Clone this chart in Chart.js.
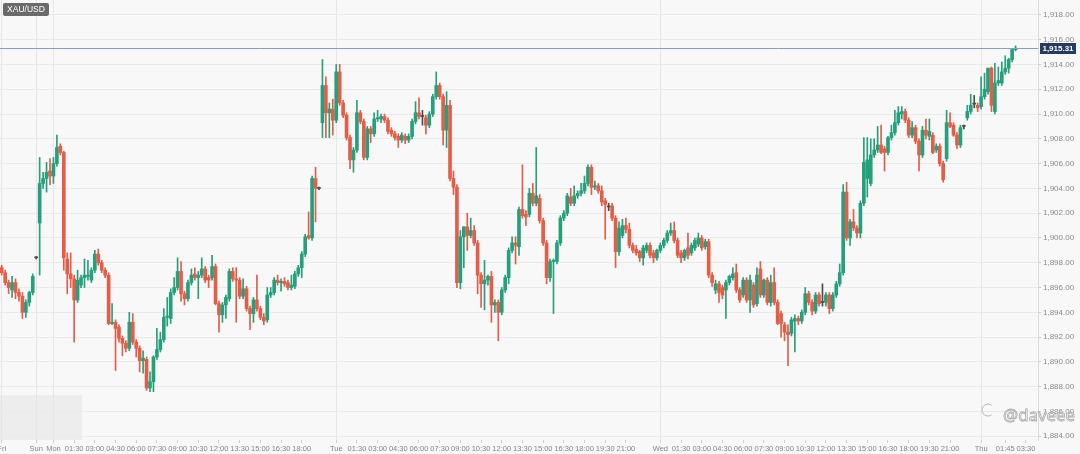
<!DOCTYPE html>
<html>
<head>
<meta charset="utf-8">
<script src="https://cdn.jsdelivr.net/npm/chart.js@4.4.0/dist/chart.umd.min.js"></script>
<style>
  html, body { margin: 0; padding: 0; background: #f8f8f8; }
  #wrap { width: 1080px; height: 454px; position: relative; }
</style>
</head>
<body>
<div id="wrap"><canvas id="myChart"></canvas></div>
<script>
// 15 min candles, [open, high, low, close]
const friday = [
  [1897.6,1897.8,1897.0,1897.2],[1897.2,1897.4,1896.2,1896.4],[1896.4,1896.6,1895.5,1896.0],
  [1895.8,1896.9,1895.2,1896.4],[1896.4,1896.7,1895.1,1895.6],[1895.6,1895.9,1894.9,1895.3],
  [1895.3,1895.6,1893.5,1894.0],[1894.0,1895.0,1893.6,1894.8],[1894.8,1895.7,1894.5,1895.6],
  [1895.6,1897.1,1895.4,1896.9]
];
const sunday = [
  [1898.4,1898.5,1898.3,1898.4],[1901.2,1906.5,1897.0,1904.4],[1904.4,1905.3,1904.0,1904.8],
  [1904.8,1906.1,1903.7,1905.3],[1905.4,1906.4,1904.3,1905.0]
];
const monday = [
  [1905.0,1906.5,1904.4,1906.0],[1906.0,1908.3,1905.8,1907.3],[1907.4,1907.6,1906.7,1906.9],
  [1906.9,1907.0,1897.4,1898.4],[1898.3,1898.8,1895.5,1897.1],[1897.1,1898.8,1896.0,1896.7],
  [1896.7,1897.0,1891.6,1895.0],[1895.0,1897.4,1894.8,1896.6],[1896.2,1897.0,1896.0,1896.8],
  [1896.8,1898.3,1896.0,1897.0],[1896.9,1898.2,1896.6,1897.0],[1896.6,1897.6,1896.4,1897.4],
  [1897.4,1899.0,1897.2,1898.7],[1898.7,1899.1,1897.8,1898.0],[1898.0,1898.2,1897.2,1897.4],
  [1897.4,1897.6,1896.8,1897.0],[1897.0,1897.2,1893.0,1893.1],[1893.1,1894.7,1893.0,1893.2],
  [1893.2,1893.4,1889.3,1892.7],[1892.8,1893.0,1891.6,1891.9],[1891.9,1892.1,1890.5,1891.5],
  [1891.5,1891.7,1890.8,1891.1],[1891.1,1894.0,1890.9,1893.2],[1893.2,1893.9,1891.4,1891.6],
  [1891.6,1891.8,1890.4,1891.1],[1891.1,1891.3,1889.2,1890.1],[1890.1,1890.9,1889.1,1890.3],
  [1890.2,1890.4,1887.7,1887.9],[1887.9,1889.2,1887.6,1888.4],[1888.4,1890.5,1887.6,1890.4],
  [1890.4,1892.7,1890.2,1891.0],[1891.0,1892.4,1890.8,1891.8],[1891.8,1894.3,1891.6,1893.6],
  [1893.6,1895.2,1892.9,1893.7],[1893.5,1895.9,1893.1,1895.6],[1895.6,1896.8,1895.4,1896.0],
  [1896.0,1898.4,1895.8,1897.3],[1897.3,1898.1,1894.9,1895.5],[1895.5,1895.7,1894.6,1895.1],
  [1895.1,1896.6,1894.9,1896.4],[1896.4,1897.5,1896.2,1897.0],[1897.1,1897.6,1896.6,1896.8],
  [1896.8,1897.3,1895.1,1897.0],[1897.0,1898.4,1896.8,1897.5],[1897.5,1897.7,1896.4,1896.6],
  [1896.8,1897.0,1896.0,1896.6],[1896.8,1898.6,1896.6,1897.7],[1897.7,1897.9,1894.6,1894.7],
  [1894.7,1894.9,1892.4,1893.8],[1893.8,1894.8,1893.2,1894.6],[1894.6,1895.4,1893.5,1895.2],
  [1895.1,1897.5,1894.9,1897.3],[1897.3,1897.6,1896.5,1896.7],[1896.7,1897.6,1893.2,1896.6],
  [1896.6,1896.8,1895.1,1895.3],[1895.3,1896.7,1895.1,1895.9],[1895.9,1896.1,1894.1,1894.3],
  [1894.3,1894.5,1892.6,1893.9],[1893.9,1895.2,1893.2,1895.0],[1895.0,1897.0,1894.1,1894.3],
  [1894.3,1894.5,1893.4,1893.6],[1893.6,1893.9,1893.0,1893.3],[1893.4,1896.0,1893.2,1895.4],
  [1895.4,1896.0,1895.2,1895.6],[1895.6,1896.8,1895.4,1896.6],[1896.6,1897.0,1896.2,1896.4],
  [1896.4,1896.7,1895.7,1896.5],[1896.5,1896.8,1896.1,1896.3],[1896.4,1896.6,1895.8,1896.0],
  [1896.0,1897.0,1895.8,1896.2],[1896.1,1897.3,1895.9,1897.1],[1897.1,1897.8,1896.9,1897.6],
  [1897.6,1898.9,1896.8,1898.7],[1898.7,1900.3,1898.5,1900.1],[1900.2,1902.1,1899.9,1900.0],
  [1900.0,1905.0,1899.8,1904.8],[1904.8,1905.7,1901.3,1904.0],[1904.0,1904.1,1903.9,1904.0],
  [1909.3,1914.4,1908.1,1912.3],[1912.3,1913.0,1908.1,1910.1],[1910.1,1910.9,1908.1,1910.4],
  [1910.4,1911.2,1908.3,1909.5]
];
const tuesday = [
  [1909.5,1914.0,1909.3,1913.4],[1913.4,1914.0,1910.7,1910.9],[1910.9,1911.1,1909.7,1909.9],
  [1909.9,1910.1,1907.9,1908.1],[1908.1,1908.3,1905.6,1906.3],[1906.3,1907.3,1905.3,1907.1],
  [1907.1,1911.1,1906.9,1910.1],[1910.1,1910.3,1909.2,1909.4],[1909.4,1909.6,1906.3,1906.5],
  [1906.5,1909.0,1906.3,1908.8],[1908.8,1909.0,1907.7,1908.4],[1908.4,1910.1,1908.2,1909.6],
  [1909.6,1910.3,1909.4,1909.7],[1909.6,1910.0,1909.3,1909.8],[1909.8,1910.0,1909.3,1909.5],
  [1909.5,1909.7,1908.4,1908.6],[1908.7,1908.9,1908.2,1908.4],[1908.4,1908.6,1907.9,1908.1],
  [1908.2,1908.4,1907.3,1907.9],[1907.9,1908.5,1907.7,1908.3],[1908.2,1908.4,1907.6,1907.9],
  [1907.9,1908.4,1907.7,1908.2],[1908.2,1909.6,1908.0,1909.4],[1909.4,1911.0,1909.2,1910.1],
  [1910.1,1911.3,1909.6,1909.8],[1909.8,1910.3,1909.1,1909.8],[1909.7,1909.9,1908.4,1909.1],
  [1909.1,1910.2,1908.9,1910.0],[1910.0,1911.6,1909.8,1911.4],[1911.4,1913.4,1911.2,1912.3],
  [1912.3,1912.5,1911.2,1911.4],[1911.4,1911.6,1907.5,1908.7],[1908.7,1911.8,1907.3,1910.7],
  [1910.7,1911.1,1904.6,1904.8],[1904.8,1905.4,1903.5,1904.1],[1904.1,1904.3,1896.0,1896.4],
  [1896.4,1900.6,1895.9,1900.1],[1900.1,1900.9,1897.6,1900.9],[1900.9,1902.0,1899.0,1900.2],
  [1900.2,1901.6,1900.0,1900.6],[1900.6,1901.0,1899.4,1899.6],[1899.6,1899.8,1895.5,1897.0],
  [1897.0,1897.2,1894.4,1896.3],[1896.3,1898.2,1894.2,1896.6],[1896.6,1897.0,1896.2,1896.9],
  [1896.9,1897.3,1893.2,1894.6],[1894.6,1895.0,1894.0,1894.8],[1894.8,1895.0,1891.7,1894.0],
  [1894.0,1896.0,1893.8,1895.8],[1895.8,1897.0,1895.6,1896.8],[1896.8,1899.2,1896.3,1899.0],
  [1899.0,1900.1,1898.8,1899.6],[1899.6,1900.1,1897.9,1899.4],[1899.3,1902.5,1898.6,1902.3],
  [1902.3,1905.9,1901.6,1901.8],[1901.9,1902.2,1901.0,1901.7],[1901.9,1904.0,1901.7,1903.6],
  [1903.6,1904.4,1902.6,1902.8],[1902.8,1907.3,1902.6,1903.4],[1903.2,1903.5,1901.2,1901.4],
  [1901.4,1901.6,1899.4,1899.6],[1899.6,1899.8,1896.3,1896.8],[1896.8,1898.3,1896.5,1898.1],
  [1898.1,1898.3,1893.9,1898.2],[1898.1,1899.8,1897.9,1899.6],[1899.6,1901.8,1899.4,1901.6],
  [1901.6,1902.2,1901.4,1902.0],[1902.0,1903.6,1901.8,1903.4],[1903.3,1904.0,1902.6,1902.8],
  [1902.8,1904.2,1902.6,1903.4],[1903.4,1903.8,1903.2,1903.6],[1903.6,1904.4,1903.4,1903.8],
  [1903.8,1905.0,1903.6,1904.4],[1904.4,1905.9,1904.2,1905.7],[1905.7,1905.9,1903.5,1904.1],
  [1904.1,1904.6,1903.9,1904.2],[1904.2,1904.4,1903.6,1903.8],[1903.8,1904.2,1902.6,1902.9],
  [1903.0,1903.2,1899.9,1902.7],[1902.5,1902.8,1902.2,1902.5],[1902.6,1902.8,1901.4,1901.6],
  [1901.6,1901.8,1897.6,1898.9],[1898.9,1901.3,1898.6,1900.8],[1900.2,1901.5,1900.0,1901.0],
  [1901.0,1901.6,1900.4,1900.7],[1900.7,1901.2,1899.2,1899.4],[1899.4,1899.6,1898.8,1899.0],
  [1899.1,1899.4,1898.6,1898.8],[1898.9,1899.0,1898.1,1898.4],[1898.4,1899.4,1897.8,1899.2],
  [1899.0,1899.6,1898.8,1899.4],[1899.4,1899.6,1898.4,1898.6],[1898.8,1899.0,1898.0,1898.4],
  [1898.4,1899.1,1898.2,1899.0]
];
const wednesday = [
  [1899.0,1899.6,1898.8,1899.4],[1899.4,1900.0,1899.2,1899.8],[1899.8,1900.6,1899.6,1900.4],
  [1900.4,1901.2,1900.2,1900.6],[1900.6,1901.3,1899.6,1899.8],[1899.8,1900.0,1898.4,1898.6],
  [1898.8,1899.0,1898.0,1898.4],[1898.4,1899.1,1898.2,1899.0],[1899.2,1900.4,1898.3,1898.6],
  [1898.8,1899.6,1898.6,1899.4],[1899.2,1900.0,1899.0,1899.8],[1899.5,1900.4,1899.3,1900.0],
  [1900.0,1900.2,1899.0,1899.2],[1899.3,1899.9,1899.1,1899.7],[1899.7,1899.9,1896.8,1897.0],
  [1897.0,1897.2,1896.1,1896.4],[1895.8,1896.6,1895.5,1896.3],[1896.3,1896.5,1894.8,1895.6],
  [1896.0,1896.2,1895.1,1895.4],[1895.8,1896.6,1893.5,1896.4],[1896.4,1897.0,1896.2,1896.9],
  [1896.8,1897.6,1896.6,1897.1],[1897.2,1897.9,1895.6,1895.8],[1895.8,1896.0,1894.8,1895.0],
  [1895.4,1896.8,1895.2,1896.6],[1896.6,1896.8,1894.8,1895.0],[1895.0,1897.0,1894.0,1896.6],
  [1896.2,1896.4,1894.4,1894.6],[1894.7,1897.6,1894.5,1897.0],[1897.5,1898.1,1895.2,1895.4],
  [1895.4,1896.7,1895.2,1896.6],[1896.6,1896.8,1894.6,1894.8],[1894.8,1897.0,1894.5,1896.4],
  [1896.4,1897.6,1894.6,1894.8],[1894.8,1895.0,1893.0,1893.1],[1893.9,1894.1,1892.0,1893.1],
  [1893.0,1893.2,1891.7,1892.4],[1892.4,1893.0,1889.7,1892.2],[1892.3,1893.6,1892.1,1893.4],
  [1893.3,1893.8,1890.8,1893.5],[1893.5,1893.7,1893.0,1893.3],[1893.3,1894.2,1893.1,1894.0],
  [1894.0,1896.0,1893.8,1895.5],[1895.5,1895.7,1894.6,1894.8],[1894.8,1895.0,1893.8,1894.1],
  [1894.1,1895.6,1893.9,1895.4],[1895.4,1895.6,1894.5,1894.7],[1894.8,1896.3,1894.5,1894.8],
  [1894.8,1895.6,1894.5,1895.4],[1895.4,1895.6,1893.9,1894.3],[1894.3,1895.6,1894.1,1895.4],
  [1895.4,1896.5,1895.2,1896.3],[1896.3,1897.9,1896.1,1897.2],[1897.2,1904.3,1897.0,1903.7],
  [1903.7,1904.5,1899.8,1900.0],[1900.0,1901.5,1899.4,1901.3],[1901.3,1902.3,1900.6,1900.8],
  [1900.8,1901.0,1900.0,1900.4],[1900.4,1903.0,1900.0,1902.8],[1902.8,1908.1,1902.6,1906.1],
  [1904.8,1908.1,1903.3,1906.3],[1904.4,1908.0,1904.2,1906.7],[1906.7,1908.0,1906.5,1907.1],
  [1907.1,1909.0,1906.9,1907.5],[1907.5,1909.1,1906.8,1906.9],[1907.2,1907.4,1905.4,1906.9],
  [1906.9,1908.2,1906.7,1908.1],[1908.1,1909.1,1907.9,1908.5],[1908.5,1910.3,1908.3,1909.3],
  [1909.3,1910.6,1909.1,1910.1],[1910.0,1910.6,1909.6,1910.2],[1910.2,1910.4,1909.3,1909.5],
  [1909.5,1909.7,1908.1,1908.3],[1908.3,1909.4,1908.1,1908.9],[1908.9,1909.1,1907.6,1907.8],
  [1907.8,1908.0,1905.4,1906.7],[1906.7,1909.0,1906.5,1908.7],[1908.7,1909.6,1908.0,1908.3],
  [1908.2,1909.6,1907.9,1908.6],[1908.3,1908.5,1906.8,1906.9],[1907.1,1907.6,1906.9,1907.4],
  [1907.4,1907.6,1905.8,1906.0],[1906.0,1906.2,1904.5,1904.7],[1906.4,1910.3,1906.2,1909.3],
  [1909.3,1910.1,1908.9,1909.0],[1909.1,1909.3,1908.2,1908.3],[1908.3,1908.5,1907.2,1907.5],
  [1907.5,1909.1,1907.3,1908.9],[1909.0,1909.1,1908.8,1909.0],[1909.7,1910.7,1909.5,1910.2],
  [1910.2,1911.6,1910.0,1910.7],[1910.8,1911.5,1910.5,1910.8],[1910.7,1910.9,1910.2,1910.5]
];
const thursday = [
  [1910.6,1913.0,1910.4,1911.4],[1911.4,1913.3,1911.2,1912.0],[1911.8,1913.7,1911.6,1913.7],
  [1913.7,1913.8,1910.2,1910.7],[1910.2,1914.1,1910.0,1912.5],[1912.5,1913.8,1912.3,1912.7],
  [1912.5,1914.2,1912.3,1913.4],[1913.4,1914.7,1913.2,1913.7],[1913.7,1914.5,1913.3,1914.4],
  [1914.4,1915.3,1914.2,1915.2],[1915.2,1915.5,1915.1,1915.31]
];

// x axis: slot number -> text
const tickSlots = [0, 10, 15, 21, 27, 33, 39, 45, 51, 57, 63, 69, 75, 81, 87,
  97, 103, 109, 115, 121, 127, 133, 139, 145, 151, 157, 163, 169, 175, 181,
  191, 197, 203, 209, 215, 221, 227, 233, 239, 245, 251, 257, 263, 269, 275,
  284, 291, 297];
const tickTexts = ['Fri', 'Sun', 'Mon', '01:30', '03:00', '04:30', '06:00', '07:30', '09:00', '10:30', '12:00', '13:30', '15:00', '16:30', '18:00',
  'Tue', '01:30', '03:00', '04:30', '06:00', '07:30', '09:00', '10:30', '12:00', '13:30', '15:00', '16:30', '18:00', '19:30', '21:00',
  'Wed', '01:30', '03:00', '04:30', '06:00', '07:30', '09:00', '10:30', '12:00', '13:30', '15:00', '16:30', '18:00', '19:30', '21:00',
  'Thu', '01:45', '03:30'];
const dayNames = ['Fri', 'Sun', 'Mon', 'Tue', 'Wed', 'Thu'];
const totalSlots = 301;
const yMin = 1883.7;
const yMax = 1919.2;
const lastPrice = 1915.31;
const symbol = 'XAU/USD';
const watermark = '@daveee';

const upColor = '#26a07c';
const downColor = '#e35d49';
const flatColor = '#4a4a4a';

const candles = friday.concat(sunday, monday, tuesday, wednesday, thursday);
const labels = [];
for (let i = 0; i < totalSlots; i++) labels.push('');
tickSlots.forEach((s, k) => { labels[s] = tickTexts[k]; });

const bodies = candles.map(c => [c[0], c[3]]);
const wicks = candles.map(c => [c[2], c[1]]);
const colors = candles.map(c => c[3] > c[0] ? upColor : (c[3] < c[0] ? downColor : flatColor));

function money(v) {
  return v.toLocaleString('en-US', { minimumFractionDigits: 2, maximumFractionDigits: 2 });
}

Chart.defaults.font.family = '"Liberation Sans", Arial, sans-serif';

const overlay = {
  id: 'overlay',
  beforeDraw(chart) {
    const { ctx, chartArea } = chart;
    ctx.save();
    ctx.fillStyle = '#ededed';
    ctx.fillRect(chartArea.left, 395, 82, chartArea.bottom - 395);
    ctx.restore();
  },
  afterDatasetsDraw(chart) {
    const { ctx, chartArea, scales } = chart;
    const yy = Math.round(scales.y.getPixelForValue(lastPrice)) + 0.5;
    ctx.save();
    ctx.strokeStyle = '#8c9cc0';
    ctx.lineWidth = 1;
    ctx.beginPath();
    ctx.moveTo(chartArea.left, yy);
    ctx.lineTo(chartArea.right, yy);
    ctx.stroke();

    ctx.fillStyle = '#253b5f';
    ctx.fillRect(chartArea.right + 2, yy - 5.5, 36, 11);
    ctx.fillStyle = '#ffffff';
    ctx.font = 'bold 8px "Liberation Sans", Arial, sans-serif';
    ctx.textAlign = 'center';
    ctx.textBaseline = 'middle';
    ctx.fillText(money(lastPrice), chartArea.right + 20, yy + 0.5);

    // symbol badge
    ctx.fillStyle = '#6a6a6a';
    ctx.beginPath();
    ctx.roundRect(3, 3, 46, 13, 2);
    ctx.fill();
    ctx.fillStyle = '#ffffff';
    ctx.font = '8.5px "Liberation Sans", Arial, sans-serif';
    ctx.fillText(symbol, 26, 10);

    // watermark, squeezed into the bottom right corner
    ctx.font = '17px "Noto Sans", sans-serif';
    ctx.textAlign = 'left';
    const w = ctx.measureText(watermark).width;
    const sx = Math.min(1, 72 / w);
    ctx.translate(1003, 416);
    ctx.scale(sx, 1);
    ctx.lineWidth = 0.8;
    ctx.strokeStyle = '#a8a8a8';
    ctx.fillStyle = 'rgba(255,255,255,0.85)';
    ctx.fillText(watermark, 0, 0);
    ctx.strokeText(watermark, 0, 0);
    ctx.setTransform(1, 0, 0, 1, 0, 0);
    ctx.beginPath();
    ctx.arc(988, 410, 6, 0.3 * Math.PI, 1.7 * Math.PI);
    ctx.stroke();
    ctx.restore();
  }
};

const ctx = document.getElementById('myChart');

new Chart(ctx, {
  type: 'bar',
  data: {
    labels: labels,
    datasets: [{
      label: 'body',
      data: bodies,
      backgroundColor: colors,
      borderWidth: 0,
      borderSkipped: false,
      barThickness: 3,
      minBarLength: 1,
      grouped: false,
      order: 0
    }, {
      label: 'wick',
      data: wicks,
      backgroundColor: colors,
      borderWidth: 0,
      borderSkipped: false,
      barThickness: 1,
      grouped: false,
      order: 1
    }]
  },
  options: {
    responsive: true,
    maintainAspectRatio: false,
    animation: false,
    events: [],
    layout: { padding: 0 },
    plugins: {
      legend: { display: false },
      tooltip: { enabled: false }
    },
    scales: {
      x: {
        offset: true,
        border: { display: false },
        grid: {
          offset: false,
          color: (c) => dayNames.includes(labels[c.index]) ? '#e6e6e6' : 'rgba(0,0,0,0)',
          tickColor: (c) => labels[c.index] ? '#cfcfcf' : 'rgba(0,0,0,0)',
          tickLength: 3
        },
        ticks: {
          autoSkip: false,
          maxRotation: 0,
          minRotation: 0,
          padding: 1,
          color: '#858585',
          font: { size: 7.5 },
          callback: (v, i) => labels[i]
        },
        afterFit: (s) => { s.height = 14; s.paddingLeft = 0; s.paddingRight = 0; }
      },
      y: {
        position: 'right',
        min: yMin,
        max: yMax,
        border: { display: true, color: '#dcdcdc' },
        grid: { color: '#eaeaea', tickColor: '#c8c8c8', tickLength: 3 },
        ticks: {
          stepSize: 2,
          includeBounds: false,
          padding: 2,
          color: '#8a8a8a',
          font: { size: 8 },
          callback: (v) => money(v)
        },
        afterFit: (s) => { s.width = 42; s.paddingTop = 0; s.paddingBottom = 0; }
      }
    }
  },
  plugins: [overlay]
});
</script>
</body>
</html>
